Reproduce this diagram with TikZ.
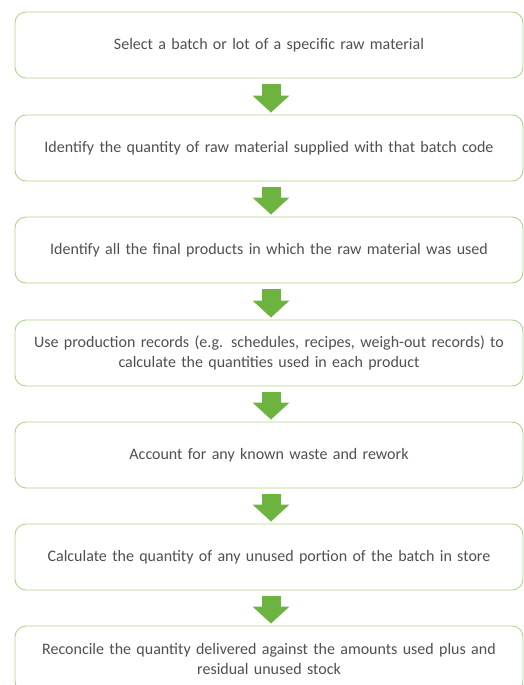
\documentclass[tikz,border=0pt]{standalone}
\usepackage{fontspec}
\setmainfont{Carlito}
\usetikzlibrary{arrows.meta}
\definecolor{boxline}{HTML}{B3D38C}
\definecolor{arrowgreen}{HTML}{6CB33F}
\definecolor{txt}{HTML}{505050}
\begin{document}
\begin{tikzpicture}[x=1pt,y=1pt,
  stepbox/.style={draw=boxline, line width=0.9pt, rounded corners=11pt, fill=white,
    minimum width=508pt, minimum height=66pt, text width=500pt, align=center,
    font=\fontsize{16}{20}\selectfont, text=txt, inner sep=0pt},
  garrow/.style={draw=arrowgreen, line width=19pt,
    -{Triangle[width=36pt,length=17pt]}, shorten <=6pt, shorten >=2pt}]
\useasboundingbox (0,0) rectangle (524,-685);
\node[stepbox] (b1) at (269,-45) {Select a batch or lot of a specific raw material};
\node[stepbox] (b2) at (269,-148) {Identify the quantity of raw material supplied with that batch code};
\node[stepbox] (b3) at (269,-250) {Identify all the final products in which the raw material was used};
\node[stepbox] (b4) at (269,-353) {Use production records (e.g. schedules, recipes, weigh-out records) to\\calculate the quantities used in each product};
\node[stepbox] (b5) at (269,-455) {Account for any known waste and rework};
\node[stepbox] (b6) at (269,-557) {Calculate the quantity of any unused portion of the batch in store};
\node[stepbox] (b7) at (269,-659) {Reconcile the quantity delivered against the amounts used plus and\\residual unused stock};
\foreach \a/\b in {b1/b2,b2/b3,b3/b4,b4/b5,b5/b6,b6/b7}
  \draw[garrow] ([xshift=2pt]\a.south) -- ([xshift=2pt]\b.north);
\end{tikzpicture}
\end{document}
